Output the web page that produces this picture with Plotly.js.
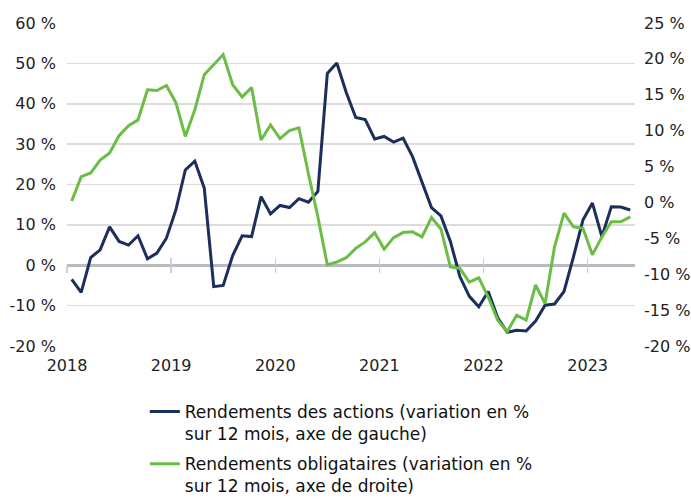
<!DOCTYPE html>
<html>
<head>
<meta charset="utf-8">
<script src="https://cdn.plot.ly/plotly-3.0.1.min.js"></script>
<style>
  body { margin:0; background:#ffffff; }
  #myDiv { width:691px; height:500px; }
</style>
</head>
<body>
<div id="myDiv"></div>
<script>
/***
   rendements actions / obligations, variation sur 12 mois
***/

// equity returns, % change over 12 months (left axis)
let stocks = [-3.5, -6.7, 1.9, 3.8, 9.5, 5.9, 5.0, 7.3, 1.6, 3.0, 6.7, 13.7,
              23.6, 25.8, 19.1, -5.3, -5.0, 2.4, 7.3, 7.1, 17.0, 12.7, 14.8, 14.3,
              16.5, 15.6, 18.3, 47.5, 50.1, 42.8, 36.6, 36.1, 31.3, 31.9, 30.5, 31.5,
              26.9, 20.7, 14.3, 12.2, 5.9, -2.8, -7.7, -10.3, -6.5, -13.0, -16.6, -16.1,
              -16.3, -13.8, -9.9, -9.6, -6.5, 2.1, 11.2, 15.4, 7.1, 14.5, 14.4, 13.7];

// bond returns, % change over 12 months (right axis)
let bonds = [0.2, 3.6, 4.1, 5.9, 6.9, 9.3, 10.7, 11.5, 15.7, 15.6, 16.3, 13.9,
             9.2, 12.9, 17.8, 19.2, 20.6, 16.4, 14.7, 16.0, 8.7, 10.8, 8.9, 10.0,
             10.4, 4.0, -2.0, -8.7, -8.3, -7.7, -6.4, -5.5, -4.2, -6.5, -4.9, -4.2,
             -4.1, -4.8, -2.1, -3.7, -9.0, -9.2, -11.1, -10.5, -13.2, -16.4, -18.0, -15.7,
             -16.4, -11.5, -14.1, -6.2, -1.5, -3.4, -3.6, -7.3, -4.8, -2.7, -2.7, -2.0];

let yearLabels = ['2018', '2019', '2020', '2021', '2022', '2023'];
let periodsPerLabel = 11;

let leftTicks  = [-20, -10, 0, 10, 20, 30, 40, 50, 60];
let rightTicks = [-20, -15, -10, -5, 0, 5, 10, 15, 20, 25];

let stocksName = 'Rendements des actions (variation en %<br>sur 12 mois, axe de gauche)';
let bondsName  = 'Rendements obligataires (variation en %<br>sur 12 mois, axe de droite)';

function plot_rendements() {

  let xIdx = stocks.map((v, i) => i);
  let yearPos = yearLabels.map((y, k) => k * periodsPerLabel - 0.5);
  let xRange = [-0.5, stocks.length - 0.5];

  let leftRange  = [leftTicks[0], leftTicks[leftTicks.length-1]];
  let rightRange = [rightTicks[0], rightTicks[rightTicks.length-1]];
  let zeroPos = (0 - leftRange[0]) / (leftRange[1] - leftRange[0]);

  let fontFam = 'DejaVu Sans, sans-serif';
  let tickFont = { family: fontFam, size: 16, color: '#222222' };

  let traceStocks = { x: xIdx, y: stocks, name: stocksName, legendgroup: 'actions',
                      xaxis: 'x', yaxis: 'y',
                      mode: 'lines', type: 'scatter',
                      line: { color: '#1c2f5c', width: 3 } };

  let traceBonds = { x: xIdx, y: bonds, name: bondsName, legendgroup: 'obligations',
                     xaxis: 'x', yaxis: 'y2',
                     mode: 'lines', type: 'scatter',
                     line: { color: '#6cbd45', width: 3 } };

  // empty holders so the 0 % tick axes get drawn
  let holder2 = { x: [], y: [], xaxis: 'x2', yaxis: 'y', showlegend: false, type: 'scatter', mode: 'lines' };
  let holder3 = { x: [], y: [], xaxis: 'x3', yaxis: 'y', showlegend: false, type: 'scatter', mode: 'lines' };

  let data = [ traceStocks, traceBonds, holder2, holder3 ];

  // small year marks sitting across the 0 % line
  let zeroTicks = {
    overlaying: 'x', matches: 'x', anchor: 'free', position: zeroPos,
    tickmode: 'array', tickvals: yearPos, showticklabels: false,
    ticklen: 7, tickwidth: 1.5, tickcolor: '#cfcfd3',
    showgrid: false, zeroline: false, showline: false };

  let layout = {
    paper_bgcolor: '#ffffff',
    plot_bgcolor: '#ffffff',
    width: 691,
    height: 500,
    margin: { l: 67, r: 56, t: 23, b: 154 },
    showlegend: true,
    legend: { x: 0.137, xanchor: 'left', yref: 'container', y: 0.212, yanchor: 'top',
              valign: 'top',
              font: { family: fontFam, size: 17, color: '#111111' },
              tracegroupgap: 5, bgcolor: 'rgba(0,0,0,0)' },
    xaxis: {
      range: xRange,
      tickmode: 'array', tickvals: yearPos, ticktext: yearLabels,
      ticks: '', ticklabelstandoff: 8,
      tickfont: tickFont,
      showgrid: false, zeroline: false, showline: false },
    xaxis2: Object.assign({ ticks: 'outside' }, zeroTicks),
    xaxis3: Object.assign({ ticks: 'inside' }, zeroTicks),
    yaxis: {
      range: leftRange,
      tickmode: 'array', tickvals: leftTicks, ticktext: leftTicks.map(v => v + ' %'),
      ticks: '', ticklabelstandoff: 10,
      tickfont: tickFont,
      showgrid: true, gridcolor: '#dcdcdc', gridwidth: 1.5,
      zeroline: true, zerolinecolor: '#b9bbc3', zerolinewidth: 2.5,
      showline: false },
    yaxis2: {
      overlaying: 'y', side: 'right', anchor: 'x',
      range: rightRange,
      tickmode: 'array', tickvals: rightTicks, ticktext: rightTicks.map(v => v + ' %'),
      ticks: '', ticklabelstandoff: 8,
      tickfont: tickFont,
      showgrid: false, zeroline: false, showline: false }
  };

  let config = { displayModeBar: false, staticPlot: true };

  Plotly.newPlot('myDiv', data, layout, config);
}

plot_rendements();
</script>
</body>
</html>
